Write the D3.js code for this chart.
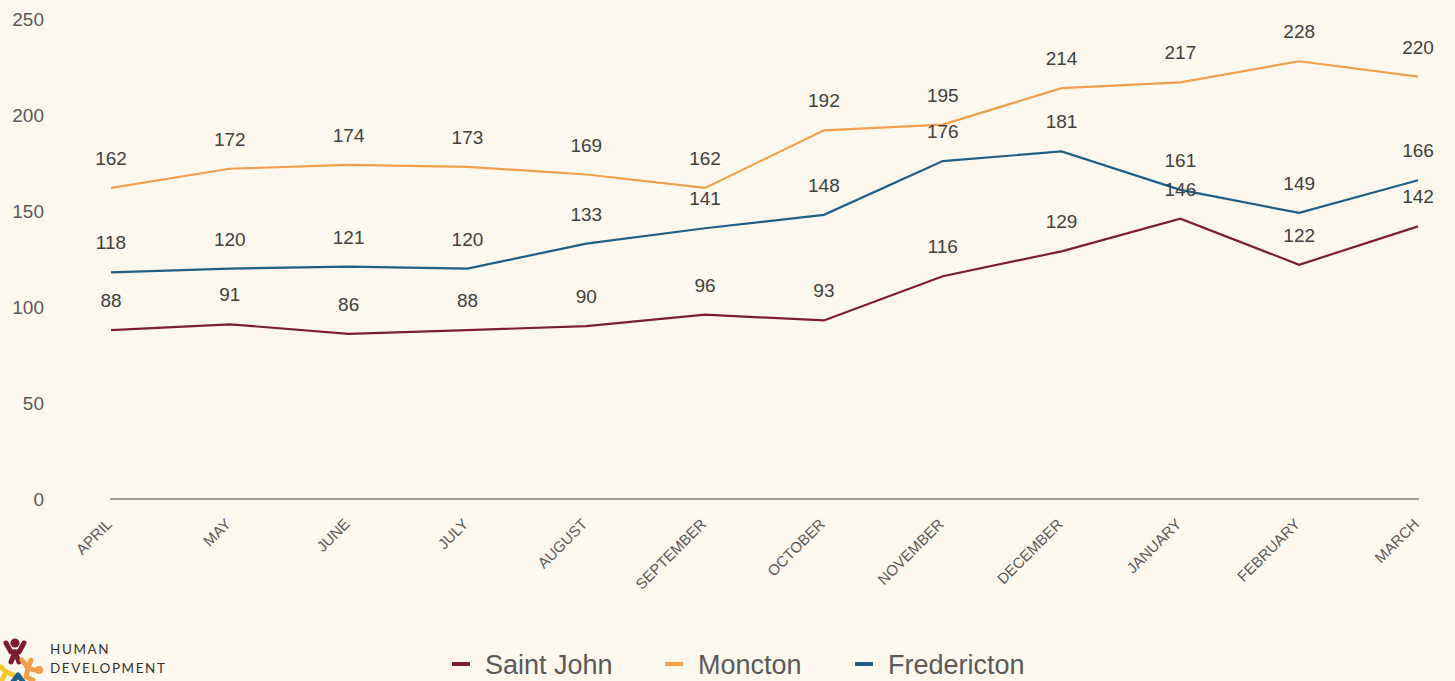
<!DOCTYPE html>
<html>
<head>
<meta charset="utf-8">
<script src="https://cdn.jsdelivr.net/npm/d3@7"></script>
<style>
  html, body { margin: 0; padding: 0; background: #fdf8ee; }
  svg { display: block; font-family: "Liberation Sans", Arial, sans-serif; }
</style>
</head>
<body>
<div id="chart"></div>
<script>
"use strict"

const months = ["APRIL", "MAY", "JUNE", "JULY", "AUGUST", "SEPTEMBER", "OCTOBER",
                "NOVEMBER", "DECEMBER", "JANUARY", "FEBRUARY", "MARCH"];
const saintJohn   = [88, 91, 86, 88, 90, 96, 93, 116, 129, 146, 122, 142];
const moncton     = [162, 172, 174, 173, 169, 162, 192, 195, 214, 217, 228, 220];
const fredericton = [118, 120, 121, 120, 133, 141, 148, 176, 181, 161, 149, 166];
const yTicks = [0, 50, 100, 150, 200, 250];

const seriesNames  = ["Saint John", "Moncton", "Fredericton"];
const seriesValues = [saintJohn, moncton, fredericton];
const seriesColors = ["#7b1f2e", "#f0a04b", "#1f5f85"];

let W = 1455, H = 681;

let svg = d3.select("#chart").append("svg")
    .attr("width", W)
    .attr("height", H);

svg.append("rect").attr("width", W).attr("height", H).attr("fill", "#fdf8ee");

let x = d3.scalePoint()
    .domain(months)
    .range([111, 1418]);

let y = d3.scaleLinear()
    .domain([0, 250])
    .range([499, 19]);

// y tick labels (no gridlines)
svg.selectAll(".ytick")
    .data(yTicks)
    .enter().append("text")
    .attr("class", "ytick")
    .attr("x", 44)
    .attr("y", d => y(d))
    .attr("dy", "0.35em")
    .style("text-anchor", "end")
    .style("font-size", "19px")
    .style("fill", "#595959")
    .text(d => d);

// baseline
svg.append("line")
    .attr("x1", 110).attr("x2", 1419)
    .attr("y1", y(0)).attr("y2", y(0))
    .style("stroke", "#7f7f7f")
    .style("stroke-width", "1.3px");

// month labels
svg.selectAll(".xtick")
    .data(months)
    .enter().append("text")
    .attr("class", "xtick")
    .attr("transform", d => "translate(" + (x(d) + 2) + "," + 525 + ") rotate(-45)")
    .style("text-anchor", "end")
    .style("font-size", "15px")
    .style("fill", "#595959")
    .text(d => d);

let line = d3.line()
    .x((d, i) => x(months[i]))
    .y(d => y(d));

seriesValues.forEach((vals, s) => {
    svg.append("path")
        .datum(vals)
        .attr("d", line)
        .style("fill", "none")
        .style("stroke", seriesColors[s])
        .style("stroke-width", "2.2px");
});

seriesValues.forEach((vals, s) => {
    svg.selectAll(".lbl" + s)
        .data(vals)
        .enter().append("text")
        .attr("class", "lbl" + s)
        .attr("x", (d, i) => x(months[i]))
        .attr("y", d => y(d) - 23)
        .style("text-anchor", "middle")
        .style("font-size", "19px")
        .style("fill", "#404040")
        .text(d => d);
});

// legend
let legendX = [452, 665, 855];
seriesNames.forEach((name, s) => {
    svg.append("rect")
        .attr("x", legendX[s])
        .attr("y", 662)
        .attr("width", 18)
        .attr("height", 4)
        .style("fill", seriesColors[s]);
    svg.append("text")
        .attr("x", legendX[s] + 33)
        .attr("y", 674)
        .style("font-size", "27px")
        .style("fill", "#595959")
        .text(name);
});

// logo (bottom-left, cut by the page edge)
let logo = svg.append("g").attr("transform", "translate(0,630)");
function limb(pts, color) {
    logo.append("path")
        .attr("d", d3.line()(pts))
        .style("fill", "none")
        .style("stroke", color)
        .style("stroke-width", 5)
        .style("stroke-linecap", "round")
        .style("stroke-linejoin", "round");
}
// red figure
logo.append("circle").attr("cx", 15).attr("cy", 13).attr("r", 4.5).style("fill", "#7b1f2e");
limb([[6, 13], [11, 22], [19, 22], [24, 13]], "#7b1f2e");
limb([[15, 22], [11, 32]], "#7b1f2e");
limb([[15, 22], [19, 32]], "#7b1f2e");
// orange figure
logo.append("circle").attr("cx", 39).attr("cy", 40).attr("r", 4).style("fill", "#f0a04b");
limb([[22, 30], [28, 38], [34, 40]], "#f0a04b");
limb([[28, 38], [31, 30]], "#f0a04b");
limb([[28, 38], [26, 47], [33, 50]], "#f0a04b");
// yellow figure
limb([[1, 37], [6, 42], [2, 50]], "#f5c830");
limb([[6, 42], [13, 45]], "#f5c830");
// blue figure
limb([[12, 53], [18, 45], [24, 53]], "#1f5f85");

logo.append("text")
    .attr("x", 50).attr("y", 24)
    .style("font-size", "13.5px")
    .style("letter-spacing", "1.6px")
    .style("fill", "#333333")
    .style("font-family", "Lato, 'Open Sans', sans-serif")
    .text("HUMAN");
logo.append("text")
    .attr("x", 50).attr("y", 43)
    .style("font-size", "13.5px")
    .style("letter-spacing", "1.6px")
    .style("fill", "#333333")
    .style("font-family", "Lato, 'Open Sans', sans-serif")
    .text("DEVELOPMENT");
</script>
</body>
</html>
